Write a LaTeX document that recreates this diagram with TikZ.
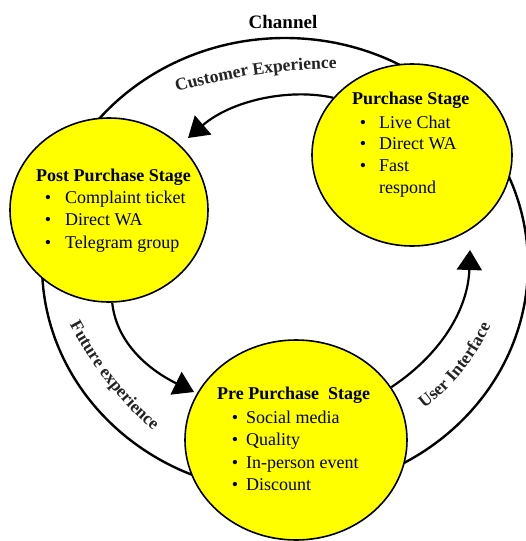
\documentclass[tikz,border=0pt]{standalone}
\usepackage{fontspec}
\setmainfont{Liberation Serif}
\usetikzlibrary{arrows.meta,decorations.text,shapes.geometric}
\definecolor{stageyellow}{RGB}{255,255,0}
\definecolor{labelgray}{RGB}{35,35,35}
\newcommand\arclabelfont{\fontsize{17.5}{17.5}\selectfont\bfseries}
\begin{document}
\begin{tikzpicture}[x=1pt,y=-1pt,
  stage/.style={ellipse, draw, line width=1.6pt, fill=stageyellow, inner sep=0pt},
  ringstyle/.style={ellipse, draw, line width=2.4pt, inner sep=0pt},
  flow/.style={line width=2.2pt, -{Triangle[length=20pt,width=25pt]}},
  titletext/.style={font=\fontsize{18}{22}\selectfont\bfseries, anchor=base west, inner sep=0pt},
  itemtext/.style={font=\fontsize{18}{22}\selectfont, anchor=base west, inner sep=0pt},
  bullettext/.style={font=\fontsize{18}{22}\selectfont, anchor=base, inner sep=0pt},
  arclabel/.style={decorate, decoration={text along path, text align=center, text color=labelgray, text={|\arclabelfont|#1}}}
]
\useasboundingbox (0,0) rectangle (526,541);

% outer ring
\node[ringstyle, minimum width=486pt, minimum height=454pt] (ring) at (285,265) {};

% stages
\node[stage, minimum width=200pt, minimum height=182pt] (purchase) at (412,155) {};
\node[stage, minimum width=198pt, minimum height=184pt] (post) at (109,210) {};
\node[stage, minimum width=222pt, minimum height=200pt] (pre) at (296,440) {};

% arrow ends
\coordinate (tipA) at (188,138);
\coordinate (tipB) at (194,392);
\coordinate (tipC) at (470,250);

\draw[flow] (purchase.144) .. controls (290,88) and (232,100) .. (tipA);
\draw[flow] (post.272) .. controls (116,340) and (145,368) .. (tipB);
\draw[flow] (pre.29) .. controls (440,355) and (468,310) .. (tipC);

% arc labels
\path[arclabel={Customer Experience}] (164,96) .. controls (222,77) and (290,67) .. (350,69);
\path[arclabel={Future experience}] (64,314) .. controls (86,358) and (118,404) .. (163,438);
\path[arclabel={User Interface}] (415,415) .. controls (447,394) and (477,360) .. (495,316);

% title
\node[font=\fontsize{19}{19}\selectfont\bfseries] (channel) at (283,22) {Channel};

% purchase text
\node[titletext] (pt) at (352,104) {Purchase Stage};
\node[bullettext] (pb1) at (363,128) {\textbullet};
\node[itemtext] (pi1) at (379,128) {Live Chat};
\node[bullettext] (pb2) at (363,149) {\textbullet};
\node[itemtext] (pi2) at (379,149) {Direct WA};
\node[bullettext] (pb3) at (363,171) {\textbullet};
\node[itemtext] (pi3) at (379,171) {Fast};
\node[itemtext] (pi4) at (379,193) {respond};

% post purchase text
\node[titletext] (ot) at (36,181) {Post Purchase Stage};
\node[bullettext] (ob1) at (48,203) {\textbullet};
\node[itemtext] (oi1) at (65,203) {Complaint ticket};
\node[bullettext] (ob2) at (48,225) {\textbullet};
\node[itemtext] (oi2) at (65,225) {Direct WA};
\node[bullettext] (ob3) at (48,248) {\textbullet};
\node[itemtext] (oi3) at (65,248) {Telegram group};

% pre purchase text
\node[titletext] (rt) at (217,399) {Pre Purchase\ \ Stage};
\node[bullettext] (rb1) at (235,423) {\textbullet};
\node[itemtext] (ri1) at (246,423) {Social media};
\node[bullettext] (rb2) at (235,445) {\textbullet};
\node[itemtext] (ri2) at (246,445) {Quality};
\node[bullettext] (rb3) at (235,468) {\textbullet};
\node[itemtext] (ri3) at (246,468) {In-person event};
\node[bullettext] (rb4) at (235,490) {\textbullet};
\node[itemtext] (ri4) at (246,490) {Discount};
\end{tikzpicture}
\end{document}
